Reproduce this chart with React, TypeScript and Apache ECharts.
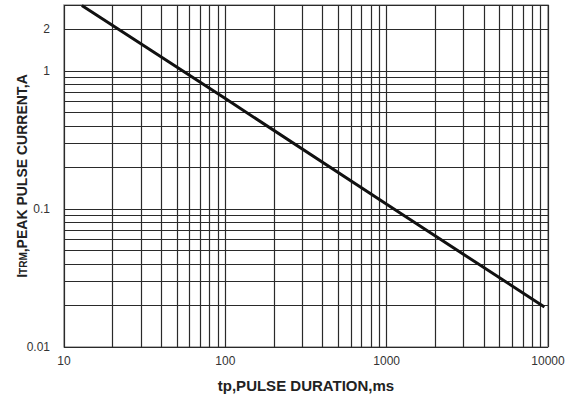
import React, { useEffect, useRef } from "react";
import * as echarts from "echarts";

const durationMs = [12.9, 100, 1000, 9500];
const peakCurrentA = [2.97, 0.63, 0.108, 0.0195];
const xGridValues = [10, 20, 30, 40, 50, 60, 70, 80, 90, 100, 200, 300, 400, 500, 600, 700, 800, 900, 1000, 2000, 3000, 4000, 5000, 6000, 7000, 8000, 9000, 10000];
const yGridValues = [0.01, 0.02, 0.03, 0.04, 0.05, 0.06, 0.07, 0.08, 0.09, 0.1, 0.2, 0.3, 0.4, 0.5, 0.6, 0.7, 0.8, 0.9, 1, 2, 3];
const xLabelValues = [10, 100, 1000, 10000];
const yLabelValues = [0.01, 0.1, 1, 2];

export default function App() {
  const ref = useRef<HTMLDivElement>(null);
  useEffect(() => {
    if (!ref.current) return;
    const chart = echarts.init(ref.current, null, { renderer: "svg" });
    const font = "Liberation Sans, Arial, sans-serif";
    chart.setOption({
      animation: false,
      backgroundColor: "#fff",
      grid: {
        left: 64,
        top: 5,
        right: 31,
        bottom: 52,
        show: true,
        borderColor: "#999",
        borderWidth: 1.5,
        containLabel: false,
        outerBoundsMode: "none",
      },
      xAxis: {
        type: "log",
        min: 10,
        max: 10000,
        logBase: 10,
        name: "tp,PULSE DURATION,ms",
        nameLocation: "middle",
        nameGap: 31,
        nameMoveOverlap: false,
        nameTextStyle: { fontFamily: font, fontSize: 15, fontWeight: "bold", color: "#222" },
        axisLine: { show: false },
        axisTick: { show: false, customValues: xGridValues },
        axisLabel: {
          customValues: xLabelValues,
          formatter: (v: number) => String(Math.round(v)),
          fontFamily: font,
          fontSize: 12,
          color: "#333",
          margin: 8,
        },
        splitLine: { show: true, lineStyle: { color: "#2a2a2a", width: 1.2 } },
      },
      yAxis: {
        type: "log",
        min: 0.01,
        max: 3,
        logBase: 10,
        name: "{a|I}{b|TRM}{a|,PEAK PULSE CURRENT,A}",
        nameLocation: "middle",
        nameGap: 35,
        nameMoveOverlap: false,
        nameTextStyle: {
          fontFamily: font,
          color: "#222",
          rich: {
            a: { fontFamily: font, fontSize: 14, fontWeight: "bold", color: "#222" },
            b: { fontFamily: font, fontSize: 10, fontWeight: "bold", color: "#222", padding: [3, 0, 0, 0] },
          },
        },
        axisLine: { show: false },
        axisTick: { show: false, customValues: yGridValues },
        axisLabel: {
          customValues: yLabelValues,
          formatter: (v: number) => String(v),
          fontFamily: font,
          fontSize: 12,
          color: "#333",
          margin: 14,
        },
        splitLine: { show: true, lineStyle: { color: "#2a2a2a", width: 1.2 } },
      },
      series: [
        {
          type: "line",
          data: durationMs.map((x, i) => [x, peakCurrentA[i]]),
          showSymbol: false,
          lineStyle: { color: "#111", width: 3 },
          silent: true,
        },
      ],
    });
    return () => chart.dispose();
  }, []);
  return <div ref={ref} style={{ position: "fixed", left: 0, top: 0, width: 579, height: 399 }} />;
}
